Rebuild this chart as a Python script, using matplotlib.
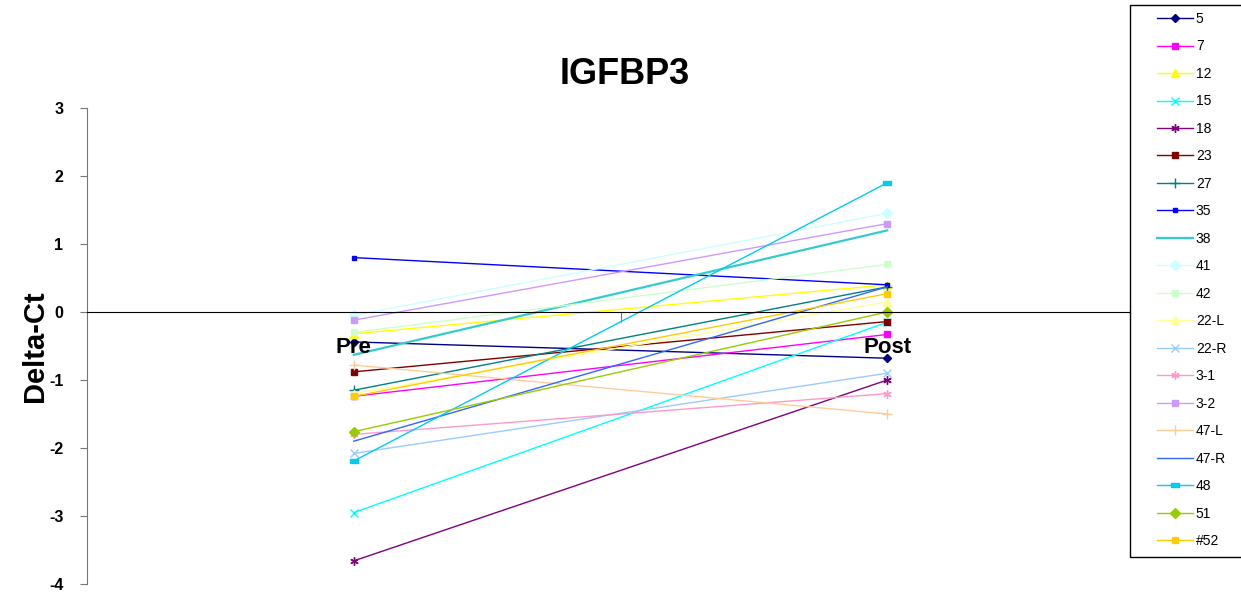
import matplotlib
matplotlib.use("Agg")
import matplotlib.pyplot as plt
from matplotlib.patches import Rectangle

plt.rcParams['font.family'] = ['Liberation Sans', 'DejaVu Sans']

# Delta-Ct values
samples = ["5", "7", "12", "15", "18", "23", "27", "35", "38", "41",
           "42", "22-L", "22-R", "3-1", "3-2", "47-L", "47-R", "48", "51", "#52"]
pre = [-0.44, -1.24, -0.32, -2.95, -3.66, -0.88, -1.15, 0.80, -0.63, -0.05,
       -0.30, -1.20, -2.08, -1.80, -0.12, -0.78, -1.90, -2.19, -1.76, -1.24]
post = [-0.68, -0.33, 0.40, -0.15, -1.00, -0.14, 0.37, 0.40, 1.20, 1.45,
        0.70, 0.15, -0.90, -1.20, 1.30, -1.50, 0.37, 1.90, 0.00, 0.27]
timepoints = ["Pre", "Post"]

colors = ["#000080", "#FF00FF", "#FFFF00", "#00FFFF", "#800080", "#800000",
          "#008080", "#0000FF", "#33CCCC", "#CCFFFF", "#CCFFCC", "#FFFF99",
          "#99CCFF", "#FF99CC", "#CC99FF", "#FFCC99", "#3366FF", "#00CCEE",
          "#99CC00", "#FFCC00"]
rect = [(-1, -0.45), (1, -0.45), (1, 0.45), (-1, 0.45), (-1, -0.45)]
markers = ["D", "s", "^", "x", (6, 2, 0), "s", "+", "s", None, "D",
           "s", "^", "x", (6, 2, 0), "s", "+", None, rect, "D", "s"]
msizes = [4.5, 5, 5.5, 5.5, 6, 5, 7, 2.5, 0, 5, 5, 5.5, 5.5, 6, 5, 7, 0, 5.5, 5, 5]
lwidths = [1, 1, 1, 1, 1, 1, 1, 1, 1.6, 1, 1, 1, 1, 1, 1, 1, 1, 1, 1, 1]

fig = plt.figure(figsize=(12.41, 5.97), dpi=100)
ax = fig.add_axes([87/1241, 1-584/597, (1154-87)/1241, (584-108)/597])

x = [0, 1]
for i in range(len(samples)):
    ax.plot(x, [pre[i], post[i]], color=colors[i], lw=lwidths[i],
            marker=markers[i], markersize=msizes[i], markeredgewidth=1,
            label=samples[i])

ax.set_xlim(-0.5, 1.5)
ax.set_ylim(-4, 3)
ax.set_yticks(range(-4, 4))
ax.set_yticklabels([str(v) for v in range(-4, 4)], fontsize=11.5, fontweight="bold")
ax.set_xticks([0.5])
ax.set_xticklabels([""])
ax.tick_params(axis="x", length=7, direction="out", color="#777777")
ax.tick_params(axis="y", length=5, color="#777777", pad=12)

ax.spines["top"].set_visible(False)
ax.spines["right"].set_visible(False)
ax.spines["left"].set_color("#777777")
ax.spines["bottom"].set_position(("data", 0))
ax.spines["bottom"].set_color("black")

for xi, name in zip(x, timepoints):
    ax.text(xi, -0.52, name, ha="center", va="center", fontsize=16, fontweight="bold")

ax.set_ylabel("Delta-Ct", fontsize=21, fontweight="bold", labelpad=0)
fig.text(625/1241, 1-75/597, "IGFBP3", ha="center", va="center",
         fontsize=26, fontweight="bold")

# legend box, cut at the right edge like the original
fig.patches.append(Rectangle((1130/1241, 1-557/597), 0.2, (557-5)/597,
                             transform=fig.transFigure, facecolor="white",
                             edgecolor="black", lw=1, zorder=5))
leg = fig.legend(loc="upper left", bbox_to_anchor=(1157/1241, 1-12/597),
                 fontsize=10, frameon=False, handlelength=2.6,
                 labelspacing=0.97, borderpad=0, handletextpad=0.2,
                 borderaxespad=0)
leg.set_zorder(6)

fig.savefig("out.png", dpi=100)
